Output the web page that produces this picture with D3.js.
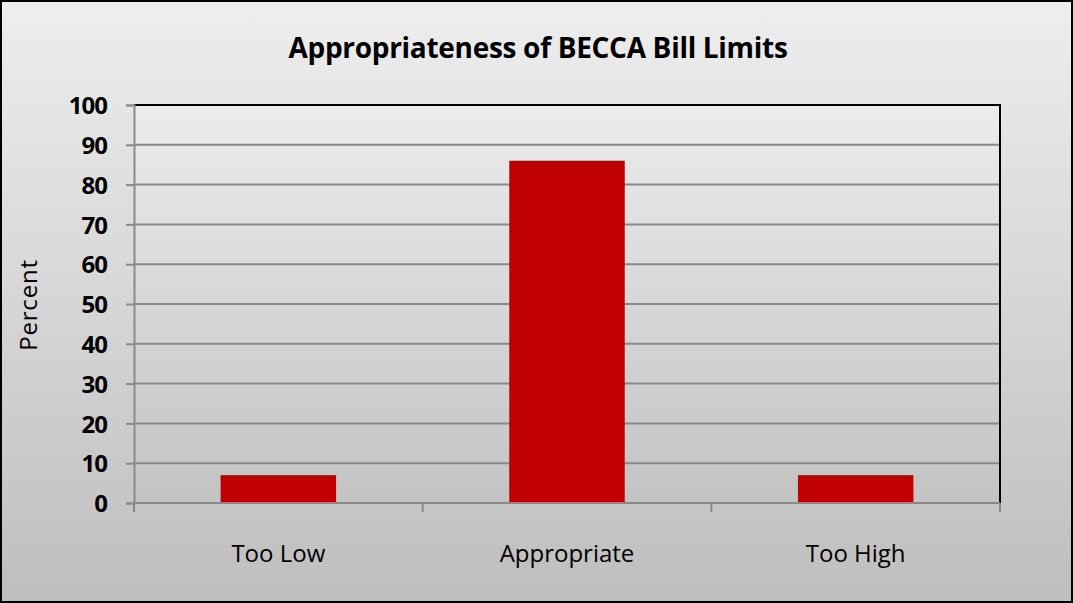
<!DOCTYPE html>
<html><head><meta charset="utf-8">
<script src="https://cdn.jsdelivr.net/npm/d3@7"></script>
<style>body{margin:0;background:#fff}svg{display:block}</style>
</head><body>
<script>
const categories = ["Too Low", "Appropriate", "Too High"];
const values = [7, 86, 7];
const yTicks = [0, 10, 20, 30, 40, 50, 60, 70, 80, 90, 100];
const title = "Appropriateness of BECCA Bill Limits";
const yLabel = "Percent";

const W = 1073, H = 603;
const m = {left: 134, right: 73, top: 105, bottom: 100};
const svg = d3.select("body").append("svg").attr("width", W).attr("height", H);
const defs = svg.append("defs");
const g1 = defs.append("linearGradient").attr("id", "bg").attr("x1", 0).attr("y1", 0).attr("x2", 0).attr("y2", 1);
g1.append("stop").attr("offset", "0%").attr("stop-color", "#EEEEEE");
g1.append("stop").attr("offset", "100%").attr("stop-color", "#BEBEBE");
const g2 = defs.append("linearGradient").attr("id", "pbg").attr("x1", 0).attr("y1", 0).attr("x2", 0).attr("y2", 1);
g2.append("stop").attr("offset", "0%").attr("stop-color", "#ECECEC");
g2.append("stop").attr("offset", "100%").attr("stop-color", "#C3C3C3");

svg.append("rect").attr("x", 1).attr("y", 1).attr("width", W - 2).attr("height", H - 2)
  .attr("fill", "url(#bg)").attr("stroke", "#000").attr("stroke-width", 2);

const x = d3.scaleBand().domain(categories).range([m.left, W - m.right]).paddingInner(0.6).paddingOuter(0.3);
const y = d3.scaleLinear().domain([0, 100]).range([H - m.bottom, m.top]);

svg.append("rect").attr("x", m.left).attr("y", m.top).attr("width", W - m.right - m.left).attr("height", H - m.bottom - m.top)
  .attr("fill", "url(#pbg)");

// gridlines
svg.append("g").selectAll("line").data(yTicks.filter(d => d > 0 && d < 100)).join("line")
  .attr("x1", m.left).attr("x2", W - m.right).attr("y1", d => y(d)).attr("y2", d => y(d))
  .attr("stroke", "#898989").attr("stroke-width", 2);

// bars
svg.append("g").selectAll("rect").data(values).join("rect")
  .attr("x", (d, i) => x(categories[i])).attr("width", x.bandwidth())
  .attr("y", d => y(d)).attr("height", d => y(0) - y(d))
  .attr("fill", "#C00000");

// top & right border
svg.append("path").attr("d", `M${m.left},${m.top}H${W - m.right}V${H - m.bottom}`)
  .attr("fill", "none").attr("stroke", "#000").attr("stroke-width", 2);

// y axis
const yAxis = d3.axisLeft(y).tickValues(yTicks).tickSize(8).tickPadding(19);
const ya = svg.append("g").attr("transform", `translate(${m.left},0)`).call(yAxis);
ya.select(".domain").attr("stroke", "#898989").attr("stroke-width", 2);
ya.selectAll(".tick line").attr("stroke", "#898989").attr("stroke-width", 2);
ya.selectAll("text").attr("font-family", "'Open Sans', sans-serif").attr("font-weight", "bold")
  .attr("font-size", 24).attr("letter-spacing", -1).attr("fill", "#000").attr("dy", "0.36em");

// x axis
const xTickPos = d3.range(categories.length + 1).map(i => m.left + i * (W - m.right - m.left) / categories.length);
svg.append("line").attr("x1", m.left).attr("x2", W - m.right).attr("y1", y(0)).attr("y2", y(0))
  .attr("stroke", "#898989").attr("stroke-width", 2);
svg.append("g").selectAll("line").data(xTickPos).join("line")
  .attr("x1", d => d).attr("x2", d => d).attr("y1", y(0)).attr("y2", y(0) + 9)
  .attr("stroke", "#898989").attr("stroke-width", 2);
svg.append("g").selectAll("text").data(categories).join("text")
  .attr("x", d => x(d) + x.bandwidth() / 2).attr("y", 562)
  .attr("text-anchor", "middle").attr("font-family", "'Open Sans', sans-serif")
  .attr("font-size", 24).attr("fill", "#000").text(d => d);

// title
svg.append("text").attr("x", 538).attr("y", 58).attr("text-anchor", "middle")
  .attr("font-family", "'Open Sans', sans-serif").attr("font-weight", "bold").attr("font-size", 28)
  .attr("letter-spacing", -0.3).attr("fill", "#000").text(title);

// y label
svg.append("text").attr("transform", "translate(37,305) rotate(-90)").attr("text-anchor", "middle")
  .attr("font-family", "'Open Sans', sans-serif").attr("font-size", 24).attr("letter-spacing", 0.8)
  .attr("fill", "#000").text(yLabel);
</script>
</body></html>
